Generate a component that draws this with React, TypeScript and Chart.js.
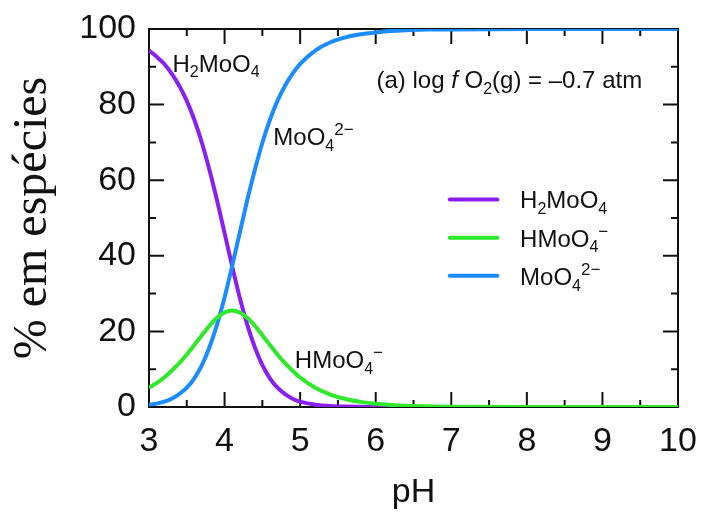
import React, { useEffect, useRef } from 'react';
import { Chart, registerables } from 'chart.js';

Chart.register(...registerables);

// ---- data ----
const pH = [
  3.0, 3.1, 3.2, 3.3, 3.4, 3.5, 3.6, 3.7, 3.8, 3.9, 4.0, 4.1, 4.2, 4.3, 4.4, 4.5,
  4.6, 4.7, 4.8, 4.9, 5.0, 5.2, 5.4, 5.6, 5.8, 6.0, 6.2, 6.4, 6.6, 6.8, 7.0, 8.0, 9.0, 10.0,
];
const h2moo4 = [
  94.3, 92.7, 90.8, 88.2, 85.0, 81.0, 76.0, 69.9, 62.7, 54.7, 46.0, 37.3, 29.0, 21.8, 15.8, 11.1,
  7.6, 5.1, 3.4, 2.2, 1.4, 0.6, 0.24, 0.1, 0.04, 0.02, 0, 0, 0, 0, 0, 0, 0, 0,
];
const hmoo4 = [
  5.1, 6.3, 7.8, 9.6, 11.6, 13.9, 16.4, 19.0, 21.5, 23.6, 25.0, 25.5, 25.0, 23.6, 21.5, 19.0,
  16.4, 13.9, 11.6, 9.6, 7.8, 5.1, 3.3, 2.1, 1.35, 0.86, 0.54, 0.34, 0.22, 0.14, 0.09, 0, 0, 0,
];
const moo4 = [
  0.6, 0.9, 1.4, 2.2, 3.4, 5.1, 7.6, 11.1, 15.8, 21.8, 29.0, 37.3, 46.0, 54.7, 62.7, 69.9,
  76.0, 81.0, 85.0, 88.2, 90.8, 94.3, 96.5, 97.8, 98.6, 99.1, 99.5, 99.7, 99.8, 99.9, 99.9, 100, 100, 100,
];

const xTickValues = [3, 4, 5, 6, 7, 8, 9, 10];
const xTickLabels = ['3', '4', '5', '6', '7', '8', '9', '10'];
const yTickValues = [0, 20, 40, 60, 80, 100];
const yTickLabels = ['0', '20', '40', '60', '80', '100'];

const xTitle = 'pH';
const yTitle = '% em espécies';

type Seg = { t: string; s?: 'sub' | 'sup' | 'i' };

const seriesNames: Seg[][] = [
  [{ t: 'H' }, { t: '2', s: 'sub' }, { t: 'MoO' }, { t: '4', s: 'sub' }],
  [{ t: 'HMoO' }, { t: '4', s: 'sub' }, { t: '−', s: 'sup' }],
  [{ t: 'MoO' }, { t: '4', s: 'sub' }, { t: '2−', s: 'sup' }],
];
const panelTitle: Seg[] = [
  { t: '(a) log ' },
  { t: 'f', s: 'i' },
  { t: ' O' },
  { t: '2', s: 'sub' },
  { t: '(g) = –0.7 atm' },
];

// ---- styles ----
const COLORS = ['#8A1FF2', '#2EE82A', '#1A8CFF'];
const SANS = '"Liberation Sans", Arial, Helvetica, sans-serif';
const SERIF = '"Liberation Serif", "Times New Roman", serif';
const INK = '#111111';

// text placement in data coordinates
const curveLabelPos = [
  { x: 3.31, y: 88.7 },
  { x: 4.93, y: 10.2 },
  { x: 4.645, y: 69.3 },
];
const titlePos = { x: 6.01, y: 84.3 };
const legendLineX = [6.98, 7.61];
const legendTextX = 7.91;
const legendRowsY = [54.9, 44.8, 34.7];

function drawRich(ctx: CanvasRenderingContext2D, segs: Seg[], x: number, y: number, size: number) {
  let cx = x;
  ctx.textBaseline = 'alphabetic';
  ctx.textAlign = 'left';
  for (const seg of segs) {
    let fs = size;
    let dy = 0;
    let style = '';
    if (seg.s === 'sub') {
      fs = Math.round(size * 0.68);
      dy = size * 0.24;
    } else if (seg.s === 'sup') {
      fs = Math.round(size * 0.7);
      dy = -size * 0.42;
    } else if (seg.s === 'i') {
      style = 'italic ';
    }
    ctx.font = `${style}${fs}px ${SANS}`;
    ctx.fillText(seg.t, cx, y + dy);
    cx += ctx.measureText(seg.t).width;
  }
}

const framePlugin = {
  id: 'frameTicks',
  beforeDatasetsDraw(chart: any) {
    const { ctx, chartArea, scales } = chart;
    const { left, right, top, bottom } = chartArea;
    const x = scales.x;
    const y = scales.y;
    ctx.save();
    ctx.strokeStyle = INK;
    ctx.lineWidth = 2;
    ctx.beginPath();
    for (let v = 3; v <= 10.001; v += 0.5) {
      const px = x.getPixelForValue(v);
      const L = Math.abs(v - Math.round(v)) < 1e-6 ? 15 : 7;
      ctx.moveTo(px, bottom);
      ctx.lineTo(px, bottom - L);
      ctx.moveTo(px, top);
      ctx.lineTo(px, top + L);
    }
    for (let v = 0; v <= 100; v += 10) {
      const py = y.getPixelForValue(v);
      const L = v % 20 === 0 ? 15 : 7;
      ctx.moveTo(left, py);
      ctx.lineTo(left + L, py);
      ctx.moveTo(right, py);
      ctx.lineTo(right - L, py);
    }
    ctx.stroke();
    ctx.strokeRect(left, top, right - left, bottom - top);
    ctx.restore();
  },
};

const textPlugin = {
  id: 'richText',
  afterDatasetsDraw(chart: any) {
    const { ctx, scales } = chart;
    const x = scales.x;
    const y = scales.y;
    ctx.save();
    ctx.fillStyle = INK;
    seriesNames.forEach((segs, i) => {
      drawRich(ctx, segs, x.getPixelForValue(curveLabelPos[i].x), y.getPixelForValue(curveLabelPos[i].y), 24);
    });
    drawRich(ctx, panelTitle, x.getPixelForValue(titlePos.x), y.getPixelForValue(titlePos.y), 24);
    seriesNames.forEach((segs, i) => {
      const py = y.getPixelForValue(legendRowsY[i]);
      ctx.strokeStyle = COLORS[i];
      ctx.lineWidth = 4;
      ctx.lineCap = 'round';
      ctx.beginPath();
      ctx.moveTo(x.getPixelForValue(legendLineX[0]), py);
      ctx.lineTo(x.getPixelForValue(legendLineX[1]), py);
      ctx.stroke();
      ctx.fillStyle = INK;
      drawRich(ctx, segs, x.getPixelForValue(legendTextX), py + 9, 24);
    });
    ctx.restore();
  },
};

export default function App() {
  const ref = useRef<HTMLCanvasElement>(null);
  useEffect(() => {
    if (!ref.current) return;
    const series = [h2moo4, hmoo4, moo4];
    const orders = [2, 0, 1];
    const chart = new Chart(ref.current, {
      type: 'line',
      data: {
        datasets: series.map((vals, i) => ({
          label: seriesNames[i].map((s) => s.t).join(''),
          data: pH.map((p, k) => ({ x: p, y: vals[k] })),
          borderColor: COLORS[i],
          backgroundColor: COLORS[i],
          borderWidth: 4,
          pointRadius: 0,
          fill: false,
          cubicInterpolationMode: 'monotone',
          order: orders[i],
        })),
      },
      options: {
        animation: false,
        responsive: false,
        events: [],
        layout: { padding: { top: 29, right: 24, left: 0, bottom: 0 } },
        plugins: { legend: { display: false }, tooltip: { enabled: false } },
        scales: {
          x: {
            type: 'linear',
            position: 'bottom',
            min: 3,
            max: 10,
            border: { display: false },
            grid: { display: false, drawTicks: false },
            ticks: {
              stepSize: 1,
              padding: 14,
              color: INK,
              font: { family: SANS, size: 34 },
              callback: (v: any) => {
                const k = xTickValues.indexOf(Number(v));
                return k >= 0 ? xTickLabels[k] : '';
              },
            },
            title: {
              display: true,
              text: xTitle,
              color: INK,
              font: { family: SANS, size: 34 },
              padding: { top: 0, bottom: 0 },
            },
            afterFit: (s: any) => {
              s.height = 106;
              s.paddingLeft = 0;
              s.paddingRight = 0;
            },
          },
          y: {
            type: 'linear',
            min: 0,
            max: 100,
            border: { display: false },
            grid: { display: false, drawTicks: false },
            ticks: {
              stepSize: 20,
              padding: 13,
              color: INK,
              font: { family: SANS, size: 34 },
              callback: (v: any) => {
                const k = yTickValues.indexOf(Number(v));
                return k >= 0 ? yTickLabels[k] : '';
              },
            },
            title: {
              display: true,
              text: yTitle,
              color: INK,
              font: { family: SERIF, size: 48 },
              padding: { top: 5, bottom: 0 },
            },
            afterFit: (s: any) => {
              s.width = 149;
              s.paddingTop = 0;
              s.paddingBottom = 0;
            },
          },
        },
      },
      plugins: [framePlugin, textPlugin],
    } as any);
    return () => chart.destroy();
  }, []);
  return (
    <div style={{ position: 'absolute', left: 0, top: 0, width: 702, height: 513 }}>
      <canvas ref={ref} width={702} height={513} style={{ display: 'block' }} />
    </div>
  );
}
